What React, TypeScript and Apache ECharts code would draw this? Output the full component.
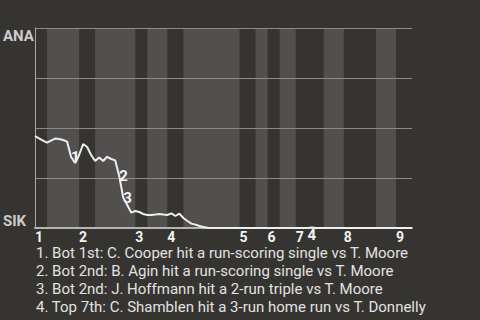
import React, { useEffect, useRef } from 'react';
import * as echarts from 'echarts';

// inning labels
const innings = ['1', '2', '3', '4', '5', '6', '7', '8', '9'];
// number of plate-appearance events in each half inning (top 1, bot 1, top 2, ...)
const halfInningEvents = [3, 8, 4, 10, 3, 5, 4, 14, 4, 3, 3, 4, 7, 5, 8, 5, 4];
// ANA win probability (%) after each event (index 0 = start of game)
const wpAna = [
  46, 44.8, 43.7, 42.7, 43.7, 44.7, 44.5, 44, 43.2, 35.5,
  32.5, 36.5, 42, 40.5, 36.5, 33.5, 35.3, 33.5, 35.6, 34.5,
  33.8, 26, 15.2, 11.5, 7.7, 8.5, 8, 7, 6.5, 6.5,
  6.7, 7, 6.7, 6.5, 7.3, 6, 7.2, 5, 3.5, 2.2,
  1.7, 1, 0.5, 0.1, 0, 0, 0, 0, 0, 0,
  0, 0, 0, 0, 0, 0, 0, 0, 0, 0,
  0, 0, 0, 0, 0, 0, 0, 0, 0, 0.2,
  0, 0, 0, 0, 0, 0, 0, 0, 0, 0,
  0, 0, 0, 0, 0, 0, 0, 0, 0, 0,
  0, 0, 0, 0, 0,
];
// key events: event index, marker label, label position
const keyEventIndex = [9, 21, 22, 69];
const keyEventLabel = ['1', '2', '3', '4'];
const keyEventPos = ['right', 'right', 'right', 'bottom'];
const notes = [
  '1. Bot 1st: C. Cooper hit a run-scoring single vs T. Moore',
  '2. Bot 2nd: B. Agin hit a run-scoring single vs T. Moore',
  '3. Bot 2nd: J. Hoffmann hit a 2-run triple vs T. Moore',
  '4. Top 7th: C. Shamblen hit a 3-run home run vs T. Donnelly',
];
const teamTop = 'ANA';
const teamBottom = 'SIK';

export default function App() {
  const ref = useRef<HTMLDivElement>(null);
  useEffect(() => {
    document.body.style.margin = '0';
    document.body.style.background = '#363431';
    if (!ref.current) return;
    const chart = echarts.init(ref.current, null, { renderer: 'svg' });

    const bounds: number[] = [0];
    halfInningEvents.forEach((c) => bounds.push(bounds[bounds.length - 1] + c));
    const total = bounds[bounds.length - 1];
    const bands: any[] = [];
    for (let i = 1; i < halfInningEvents.length; i += 2) {
      bands.push([{ xAxis: bounds[i] }, { xAxis: bounds[i + 1] }]);
    }
    const inningStarts = innings.map((_, k) => bounds[2 * k] + 1);
    const lineData = wpAna.map((v, i) => [i, v]);

    const font = 'Roboto, "Noto Sans", sans-serif';
    chart.setOption({
      animation: false,
      backgroundColor: '#363431',
      title: {
        text: notes.join('\n'),
        left: 36,
        top: 244.5,
        padding: 0,
        textStyle: {
          color: '#e2e2e2',
          fontSize: 15,
          fontWeight: 'normal',
          lineHeight: 17.8,
          fontFamily: font,
        },
      },
      grid: { left: 35, right: 68, top: 28, bottom: 92 },
      xAxis: {
        type: 'value',
        min: 0,
        max: total,
        z: 2,
        axisLine: { show: true, lineStyle: { color: '#b4b4b4', width: 2 } },
        axisTick: { show: false },
        splitLine: { show: false },
        axisLabel: {
          customValues: inningStarts,
          formatter: (v: number) => {
            const k = inningStarts.indexOf(v);
            return k >= 0 ? innings[k] : '';
          },
          color: '#f2f2f2',
          fontSize: 14,
          lineHeight: 12,
          fontWeight: 'bold',
          fontFamily: font,
          margin: 3,
        },
      },
      yAxis: [
        {
          type: 'value',
          min: 0,
          max: 100,
          interval: 25,
          position: 'left',
          z: 2,
          axisLine: { show: true, lineStyle: { color: '#aaaaaa', width: 1 } },
          axisTick: { show: false },
          splitLine: { show: true, lineStyle: { color: '#8a8a8a', width: 1 } },
          axisLabel: {
            formatter: (v: number) => (v === 100 ? teamTop : ''),
            align: 'left',
            verticalAlign: 'top',
            margin: 32,
            color: '#cccccc',
            fontSize: 15,
            fontWeight: 'bold',
            fontFamily: font,
          },
        },
        {
          type: 'value',
          min: 0,
          max: 100,
          interval: 25,
          position: 'left',
          z: 2,
          axisLine: { show: false },
          axisTick: { show: false },
          splitLine: { show: false },
          axisLabel: {
            formatter: (v: number) => (v === 0 ? teamBottom : ''),
            align: 'left',
            verticalAlign: 'bottom',
            margin: 32,
            color: '#cccccc',
            fontSize: 15,
            fontWeight: 'bold',
            fontFamily: font,
          },
        },
      ],
      series: [
        {
          type: 'line',
          data: lineData,
          symbol: 'none',
          z: 1,
          lineStyle: { opacity: 0 },
          silent: true,
          markArea: {
            silent: true,
            z: 1,
            itemStyle: { color: '#51504f' },
            data: bands,
          },
        },
        {
          type: 'line',
          data: lineData,
          symbol: 'none',
          z: 3,
          lineStyle: { color: '#eeeeee', width: 2 },
          markPoint: {
            symbol: 'circle',
            symbolSize: 0,
            z: 5,
            data: keyEventIndex.map((idx, i) => ({
              coord: [idx, wpAna[idx]],
              label: {
                show: true,
                formatter: keyEventLabel[i],
                position: keyEventPos[i],
                distance: 0,
                color: '#f5f5f5',
                fontSize: 15,
                fontWeight: 'bold',
                fontFamily: font,
              },
            })),
          },
        },
      ],
    });
    return () => chart.dispose();
  }, []);
  return <div ref={ref} style={{ width: 480, height: 320 }} />;
}
